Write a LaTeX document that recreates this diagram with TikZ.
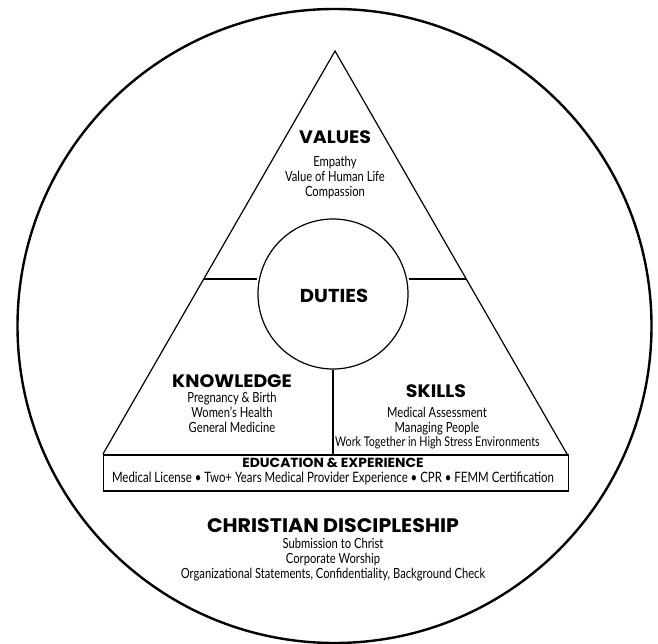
\documentclass[tikz,border=0pt]{standalone}
\usepackage{fontspec}
\newfontfamily\headfont{Poppins}[FakeStretch=1.05]
\newfontfamily\bodyfont{Lato}[FakeStretch=0.8]
\tikzset{
  bigring/.style={draw, line width=2.4pt},
  thinline/.style={draw, line width=1.2pt},
  boxline/.style={draw, line width=1.8pt},
  headA/.style={anchor=base, inner sep=0pt, font=\headfont\bfseries\fontsize{18}{19}\selectfont},
  headB/.style={anchor=base, inner sep=0pt, font=\headfont\bfseries\fontsize{19.6}{21}\selectfont},
  headC/.style={anchor=base, inner sep=0pt, font=\headfont\bfseries\fontsize{13.2}{14}\selectfont},
  bodyline/.style={anchor=base, inner sep=0pt, font=\bodyfont\fontsize{14}{15}\selectfont},
}
\begin{document}
\begin{tikzpicture}[x=1pt,y=-1pt]
\useasboundingbox (0,0) rectangle (658,644);
% outer circle
\node[circle, bigring, minimum size=634pt, inner sep=0pt] (ring) at (334.5,326) {};
% triangle
\coordinate (apex) at (335,51);
\coordinate (bl) at (103,454);
\coordinate (br) at (567,454);
\draw[thinline, line join=miter] (bl) -- (apex) -- (br);
% education box
\node[boxline, rectangle, minimum width=465pt, minimum height=36pt, inner sep=0pt, anchor=north west] (edu) at (102.5,454) {};
% duties circle
\node[circle, thinline, minimum size=150pt, inner sep=0pt] (duties) at (333,294) {};
\node[headA, font=\headfont\bfseries\fontsize{18.7}{20}\selectfont] (dutiest) at (334,302) {DUTIES};
% divider lines
\coordinate (hl) at (203.7,279);
\coordinate (hr) at (466.3,279);
\draw[thinline] (hl) -- (duties.west |- hl);
\draw[thinline] (hr) -- (duties.east |- hr);
\draw[thinline] (duties.south) -- (duties.south |- edu.north);
% VALUES
\node[headA] (values) at (335,144) {VALUES};
\node[bodyline] (v1) at (335,167) {Empathy};
\node[bodyline] (v2) at (335,182) {Value of Human Life};
\node[bodyline] (v3) at (335,197) {Compassion};
% KNOWLEDGE
\node[headA] (know) at (232,387) {KNOWLEDGE};
\node[bodyline] (k1) at (232,402) {Pregnancy \& Birth};
\node[bodyline] (k2) at (232,417) {Women’s Health};
\node[bodyline] (k3) at (232,432) {General Medicine};
% SKILLS
\node[headA] (skills) at (436,397) {SKILLS};
\node[bodyline] (s1) at (437,417) {Medical Assessment};
\node[bodyline] (s2) at (437,432) {Managing People};
\node[bodyline, font=\bodyfont\fontsize{13.4}{15}\selectfont] (s3) at (437.5,446) {Work Together in High Stress Environments};
% EDUCATION
\node[headC] (edut) at (333,467) {EDUCATION \& EXPERIENCE};
\node[bodyline, font=\bodyfont\fontsize{14.3}{15}\selectfont] (e1) at (333,482) {Medical License • Two+ Years Medical Provider Experience • CPR • FEMM Certification};
% CHRISTIAN DISCIPLESHIP
\node[headB] (cd) at (333,532) {CHRISTIAN DISCIPLESHIP};
\node[bodyline] (c1) at (333,548) {Submission to Christ};
\node[bodyline] (c2) at (333,563) {Corporate Worship};
\node[bodyline] (c3) at (333,578) {Organizational Statements, Confidentiality, Background Check};
\end{tikzpicture}
\end{document}
